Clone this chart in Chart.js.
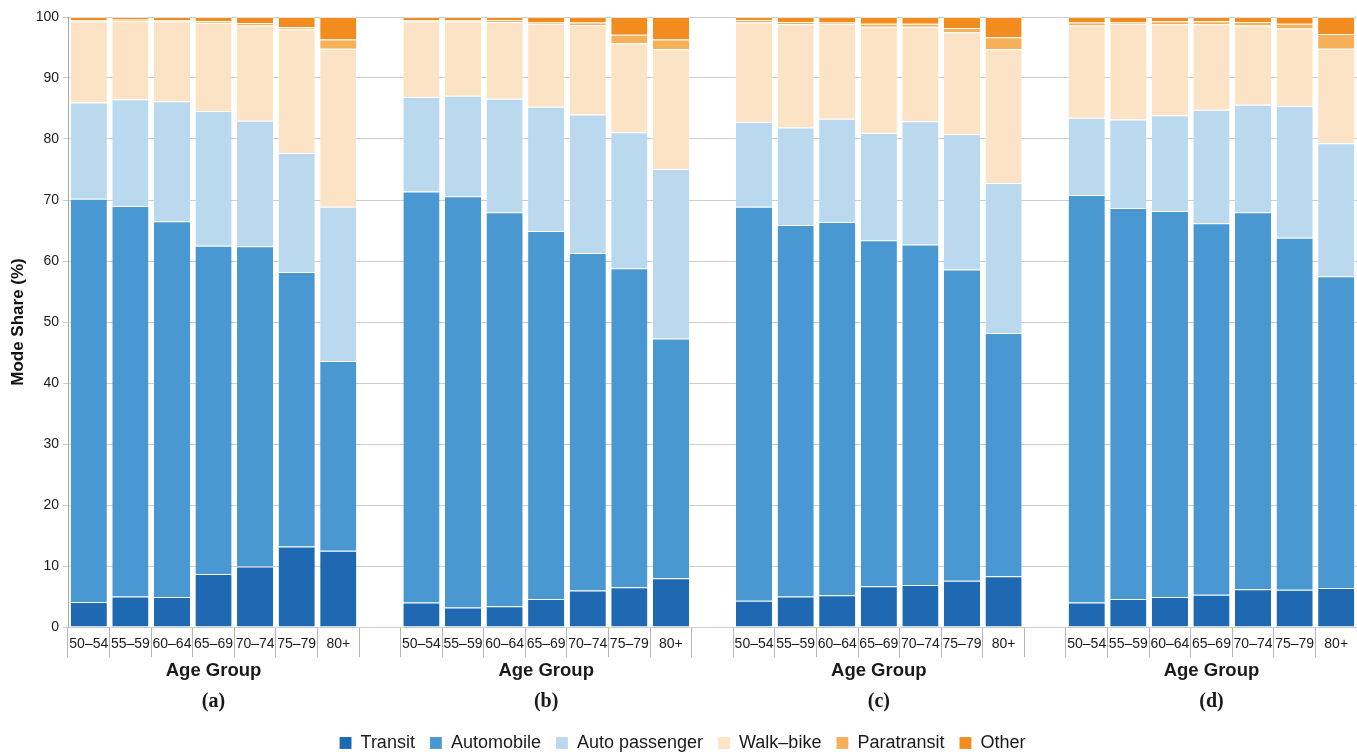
<!DOCTYPE html>
<html>
<head>
<meta charset="utf-8">
<script src="https://cdn.jsdelivr.net/npm/chart.js@4"></script>
<style>
  html, body { margin: 0; padding: 0; background: #fff; }
  #wrap { width: 1357px; height: 752px; }
</style>
</head>
<body>
<div id="wrap"><canvas id="c" width="1357" height="752"></canvas></div>
<script>
// Age groups shown in every panel
const ageGroups = ['50\u201354', '55\u201359', '60\u201364', '65\u201369', '70\u201374', '75\u201379', '80+'];
const panels = ['(a)', '(b)', '(c)', '(d)'];
const yTicks = [0, 10, 20, 30, 40, 50, 60, 70, 80, 90, 100];

// Mode share (%) per panel, one row per panel, one value per age group
const transit = [
  [4.1, 5.0, 4.9, 8.7, 9.9, 13.2, 12.5],
  [4.0, 3.2, 3.4, 4.6, 6.0, 6.5, 8.0],
  [4.3, 5.0, 5.2, 6.7, 6.9, 7.6, 8.3],
  [4.0, 4.6, 4.9, 5.3, 6.2, 6.1, 6.4]
];
const automobile = [
  [66.1, 64.0, 61.6, 53.8, 52.5, 45.0, 31.1],
  [67.4, 67.4, 64.6, 60.3, 55.3, 52.3, 39.3],
  [64.6, 60.9, 61.2, 56.7, 55.8, 51.0, 39.9],
  [66.8, 64.1, 63.3, 60.9, 61.8, 57.7, 51.1]
];
const autoPassenger = [
  [15.8, 17.5, 19.7, 22.1, 20.6, 19.5, 25.3],
  [15.5, 16.5, 18.6, 20.4, 22.7, 22.3, 27.8],
  [13.9, 16.0, 16.9, 17.6, 20.2, 22.2, 24.6],
  [12.7, 14.5, 15.7, 18.6, 17.6, 21.6, 21.8]
];
const walkBike = [
  [13.3, 12.9, 13.1, 14.4, 15.6, 20.3, 25.9],
  [12.4, 12.2, 12.6, 13.6, 14.7, 14.6, 19.6],
  [16.3, 16.9, 15.6, 17.4, 15.5, 16.7, 21.9],
  [15.1, 15.7, 14.9, 14.0, 13.0, 12.7, 15.5]
];
const paratransit = [
  [0.2, 0.2, 0.2, 0.3, 0.4, 0.3, 1.5],
  [0.2, 0.2, 0.3, 0.3, 0.4, 1.4, 1.6],
  [0.4, 0.4, 0.2, 0.5, 0.5, 0.7, 2.0],
  [0.5, 0.3, 0.5, 0.5, 0.6, 0.8, 2.4]
];
const other = [
  [0.5, 0.4, 0.5, 0.7, 1.0, 1.7, 3.7],
  [0.5, 0.5, 0.5, 0.8, 0.9, 2.9, 3.7],
  [0.5, 0.8, 0.9, 1.1, 1.1, 1.8, 3.3],
  [0.9, 0.8, 0.7, 0.7, 0.8, 1.1, 2.8]
];

const modeNames = ['Transit', 'Automobile', 'Auto passenger', 'Walk\u2013bike', 'Paratransit', 'Other'];
const modeColors = ['#1f68b2', '#4a98d2', '#bad8ee', '#fde3c6', '#f6b059', '#f28c1f'];
const modeSeries = [transit, automobile, autoPassenger, walkBike, paratransit, other];

// Panels sit side by side on one category axis with an empty slot between them
const labels = [];
panels.forEach((p, i) => {
  ageGroups.forEach(g => labels.push(g));
  if (i < panels.length - 1) labels.push('');
});
function flatten(rows) {
  const out = [];
  rows.forEach((row, i) => {
    row.forEach(v => out.push(v));
    if (i < rows.length - 1) out.push(null);
  });
  return out;
}

const datasets = modeSeries.map((rows, k) => ({
  label: modeNames[k],
  data: flatten(rows),
  backgroundColor: modeColors[k],
  borderColor: 'rgba(255,255,255,0.45)',
  borderWidth: { top: 1, left: 0, right: 0, bottom: 0 },
  borderSkipped: 'start',
  barPercentage: 0.87,
  categoryPercentage: 1.0
}));

// Group captions ("Age Group" and panel letter) under each block of bars
const groupCaptions = {
  id: 'groupCaptions',
  afterDraw(chart) {
    const ctx = chart.ctx;
    const xs = chart.scales.x;
    const base = chart.chartArea.bottom;
    ctx.save();
    ctx.fillStyle = '#1a1a1a';
    ctx.textAlign = 'center';
    ctx.textBaseline = 'middle';
    panels.forEach((p, i) => {
      const cx = xs.getPixelForValue(i * (ageGroups.length + 1) + 3);
      ctx.font = 'bold 18.5px "Liberation Sans", Arial, sans-serif';
      ctx.fillText('Age Group', cx, base + 44);
      ctx.font = 'bold 20px "Liberation Serif", "Times New Roman", serif';
      ctx.fillText(p, cx, base + 75);
    });
    ctx.restore();
  }
};

new Chart(document.getElementById('c'), {
  type: 'bar',
  data: { labels, datasets },
  plugins: [groupCaptions],
  options: {
    responsive: false,
    animation: false,
    layout: { padding: { top: 17, right: 0, bottom: -10, left: 8 } },
    plugins: {
      tooltip: { enabled: false },
      legend: {
        position: 'bottom',
        labels: {
          boxWidth: 12,
          boxHeight: 12,
          padding: 15,
          color: '#1a1a1a',
          font: { size: 18, family: '"Liberation Sans", Arial, sans-serif' }
        }
      }
    },
    scales: {
      x: {
        stacked: true,
        offset: true,
        grid: {
          offset: true,
          drawOnChartArea: false,
          drawTicks: true,
          tickLength: 30,
          color: '#b5b5b5'
        },
        border: { display: false },
        ticks: {
          autoSkip: false,
          maxRotation: 0,
          minRotation: 0,
          padding: -21,
          color: '#1a1a1a',
          font: { size: 14, family: '"Liberation Sans", Arial, sans-serif' }
        },
        afterFit(scale) { scale.height = 92; }
      },
      y: {
        stacked: true,
        min: 0,
        max: 100,
        afterBuildTicks(scale) { scale.ticks = yTicks.map(v => ({ value: v })); },
        grid: { color: '#cdcdcd', tickLength: 5 },
        border: { display: true, color: '#a8a8a8' },
        ticks: {
          color: '#1a1a1a',
          padding: 4,
          font: { size: 14, family: '"Liberation Sans", Arial, sans-serif' }
        },
        title: {
          display: true,
          text: 'Mode Share (%)',
          color: '#111',
          padding: { top: 0, bottom: 4 },
          font: { size: 17, weight: 'bold', family: '"Liberation Sans", Arial, sans-serif' }
        },
        afterFit(scale) { scale.width = 60; }
      }
    }
  }
});
</script>
</body>
</html>
